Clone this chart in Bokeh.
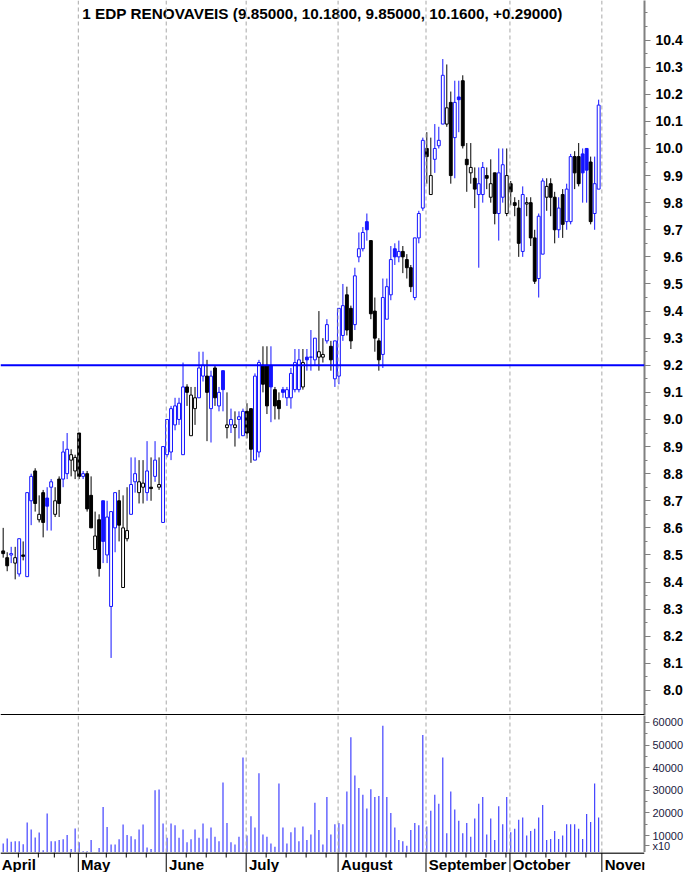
from bokeh.plotting import figure
from bokeh.layouts import column
from bokeh.models import (Range1d, LinearAxis, FixedTicker, CustomJSTickFormatter, Span)
from bokeh.core.properties import value
from bokeh.embed import file_html
from bokeh.resources import INLINE

# ---------------- data (trading days, 2 Apr .. 31 Oct) ----------------
open_ = [8.515, 8.49, 8.50, 8.47, 8.43, 8.50, 8.42, 8.70, 8.81, 8.63,
         8.73, 8.71, 8.75, 8.65, 8.78, 8.78, 8.80, 8.85, 8.81,
         8.95, 8.79, 8.80, 8.72, 8.52, 8.63, 8.70, 8.50, 8.31, 8.60,
         8.70, 8.38, 8.56, 8.65, 8.77, 8.73, 8.75, 8.73, 8.75, 8.79, 8.75, 8.62,
         8.87, 8.88, 8.98, 9.00, 8.87, 9.12, 8.94, 9.04, 9.08, 9.16,
         9.16, 9.04, 9.19, 9.05, 9.18, 8.97, 8.98, 8.97, 9.00, 8.94,
         9.03, 9.04, 8.85, 8.88, 9.20, 9.20, 9.20, 9.11, 9.07, 9.11,
         9.08, 9.08, 9.11, 9.11, 9.12, 9.23, 9.23, 9.22, 9.23, 9.23,
         9.29, 9.27, 9.15,
         9.16, 9.31, 9.46, 9.41, 9.35, 9.60, 9.63, 9.73, 9.66, 9.40,
         9.29, 9.24, 9.37, 9.46, 9.63, 9.60, 9.62, 9.59, 9.56, 9.45,
         9.67, 9.78,
         10.00, 9.83, 9.96, 10.01, 10.09, 10.09, 10.17, 10.04, 10.19, 10.25,
         9.96, 9.91, 9.89, 9.83, 9.83, 9.90, 9.82, 9.91, 9.76, 9.82, 9.76,
         9.87, 9.80, 9.78, 9.62, 9.795, 9.80, 9.67, 9.52, 9.61, 9.82,
         9.87, 9.82, 9.70, 9.83, 9.73, 9.73, 9.97, 9.97, 9.98, 10.00,
         9.95, 9.76, 9.85]
high = [8.60, 8.51, 8.53, 8.53, 8.56, 8.55, 8.73, 8.80, 8.82, 8.72,
        8.74, 8.75, 8.78, 8.75, 8.79, 8.92, 8.95, 8.89, 8.87,
        8.95, 8.81, 8.81, 8.79, 8.66, 8.65, 8.70, 8.70, 8.66, 8.73,
        8.74, 8.72, 8.75, 8.86, 8.86, 8.85, 8.85, 8.92, 8.86, 8.92, 8.86, 8.90,
        9.00, 9.05, 9.08, 9.08, 9.21, 9.13, 9.12, 9.12, 9.25, 9.25,
        9.22, 9.18, 9.20, 9.12, 9.18, 9.10, 9.04, 9.03, 9.03, 9.04,
        9.06, 9.04, 9.17, 9.22, 9.27, 9.27, 9.27, 9.12, 9.10, 9.12,
        9.12, 9.19, 9.26, 9.26, 9.26, 9.26, 9.33, 9.30, 9.40, 9.30,
        9.37, 9.29, 9.29,
        9.41, 9.50, 9.49, 9.42, 9.56, 9.69, 9.71, 9.76, 9.66, 9.45,
        9.30, 9.52, 9.52, 9.64, 9.65, 9.66, 9.64, 9.61, 9.57, 9.67,
        9.77, 10.04,
        10.06, 10.04, 10.09, 10.08, 10.33, 10.31, 10.21, 10.25, 10.25, 10.27,
        10.02, 10.02, 9.93, 9.93, 9.95, 9.93, 9.96, 9.91, 10.00, 10.00, 10.00,
        9.88, 9.82, 9.81, 9.86, 9.82, 9.82, 9.70, 9.76, 9.89, 9.89,
        9.89, 9.84, 9.82, 9.85, 9.87, 9.98, 9.99, 10.02, 10.00, 10.00,
        9.97, 9.97, 10.18]
low = [8.49, 8.44, 8.47, 8.41, 8.42, 8.48, 8.42, 8.61, 8.66, 8.62,
       8.565, 8.59, 8.59, 8.64, 8.64, 8.75, 8.78, 8.79, 8.78,
       8.78, 8.78, 8.66, 8.60, 8.52, 8.42, 8.47, 8.47, 8.12, 8.51,
       8.55, 8.38, 8.55, 8.65, 8.73, 8.69, 8.69, 8.70, 8.70, 8.77, 8.74, 8.62,
       8.86, 8.85, 8.96, 8.98, 8.87, 9.05, 8.94, 8.98, 9.08, 9.14,
       8.92, 8.915, 9.05, 9.03, 9.03, 8.93, 8.95, 8.90, 8.93, 8.94,
       8.93, 8.84, 8.85, 8.86, 9.10, 9.02, 8.99, 9.00, 9.00, 9.08,
       9.05, 9.04, 9.10, 9.10, 9.11, 9.18, 9.18, 9.20, 9.18, 9.21,
       9.28, 9.18, 9.12,
       9.13, 9.29, 9.31, 9.26, 9.33, 9.58, 9.62, 9.66, 9.37, 9.25,
       9.18, 9.19, 9.37, 9.44, 9.57, 9.58, 9.54, 9.52, 9.47, 9.44,
       9.65, 9.77,
       9.87, 9.83, 9.91, 10.00, 10.09, 10.08, 9.87, 9.89, 10.06, 10.00,
       9.84, 9.87, 9.78, 9.56, 9.80, 9.85, 9.80, 9.72, 9.66, 9.80, 9.75,
       9.79, 9.75, 9.60, 9.60, 9.75, 9.64, 9.50, 9.45, 9.61, 9.77,
       9.75, 9.65, 9.67, 9.67, 9.70, 9.72, 9.85, 9.86, 9.80, 9.80,
       9.72, 9.70, 9.85]
close = [8.505, 8.46, 8.505, 8.49, 8.56, 8.495, 8.73, 8.79, 8.69, 8.65,
         8.62, 8.68, 8.77, 8.70, 8.69, 8.88, 8.89, 8.87, 8.86,
         8.79, 8.80, 8.67, 8.60, 8.57, 8.45, 8.55, 8.64, 8.66, 8.73,
         8.61, 8.60, 8.59, 8.76, 8.80, 8.77, 8.765, 8.81, 8.745, 8.85, 8.76, 8.90,
         9.00, 9.04, 9.05, 9.06, 9.12, 9.10, 9.09, 9.08, 9.19, 9.20,
         9.10, 9.16, 9.08, 9.10, 9.11, 8.98, 9.00, 8.98, 9.01, 9.03,
         8.95, 8.89, 9.16, 9.21, 9.13, 9.05, 9.12, 9.05, 9.04, 9.10,
         9.11, 9.17, 9.21, 9.22, 9.21, 9.22, 9.23, 9.30, 9.25, 9.24,
         9.35, 9.22, 9.29,
         9.41, 9.42, 9.33, 9.29, 9.53, 9.63, 9.69, 9.70, 9.39, 9.30,
         9.22, 9.45, 9.49, 9.59, 9.60, 9.62, 9.60, 9.56, 9.49, 9.67,
         9.76, 10.03,
         9.97, 9.90, 10.00, 10.03, 10.27, 10.15, 9.90, 10.17, 10.18, 10.01,
         9.94, 9.93, 9.85, 9.87, 9.93, 9.89, 9.87, 9.76, 9.91, 9.94, 9.90,
         9.84, 9.79, 9.65, 9.83, 9.80, 9.67, 9.51, 9.75, 9.88, 9.86,
         9.82, 9.70, 9.78, 9.72, 9.85, 9.97, 9.91, 9.87, 9.91, 9.92,
         9.73, 9.87, 10.16]
volume = [6500, 8700, 7200, 7500, 7500, 6200, 15800, 12700, 9100, 11300,
          3500, 19700, 7500, 7500, 8000, 8400, 10200, 4000, 13100,
          7000, 3000, 3000, 8000, 2600, 4500, 22600, 13800, 6000, 6000,
          8400, 14900, 10200, 9700, 8400, 12700, 14900, 4700, 4000, 30000, 30300, 15300,
          9000, 15300, 14500, 9000, 12700, 7000, 8400, 12700, 9000, 15300,
          8700, 13500, 9500, 7500, 33500, 15500, 7000, 6000, 9500, 44500,
          10000, 18500, 13500, 37500, 10500, 9500, 6500, 5000, 33000, 13500,
          6500, 11500, 13500, 7500, 14000, 8000, 10500, 24500, 12500, 6000,
          27000, 10500, 15000,
          15500, 15000, 29500, 53500, 36500, 31000, 28000, 22000, 30500, 27000,
          27500, 58500, 27000, 20000, 13500, 8000, 7500, 5500, 12500, 15500,
          14500, 54500,
          14000, 21000, 28000, 24000, 44500, 11000, 29500, 21500, 16500, 11000,
          15500, 9500, 17500, 24000, 27000, 10500, 17500, 8000, 23000, 15000, 27000,
          11500, 13000, 17000, 18000, 10000, 12000, 13000, 18000, 23500, 8000,
          8500, 12000, 8500, 10000, 15000, 15000, 15000, 13000, 8500, 19500,
          16000, 33000, 18000]

month_names = ["April", "May", "June", "July", "August", "September", "October", "November"]
month_start = [0, 19, 41, 61, 84, 106, 127, 150]       # index of first trading day
week_start = [4, 9, 13, 17, 21, 26, 31, 36, 46, 51, 56, 66, 71, 76, 81, 86, 91, 96,
              101, 111, 116, 121, 126, 131, 136, 141, 146]
price_ticks = [round(8.0 + 0.1 * k, 1) for k in range(25)]
volume_ticks = [10000, 20000, 30000, 40000, 50000, 60000]
volume_scale_tag = "x10"
reference_level = 9.2
title_text = "1 EDP RENOVAVEIS (9.85000, 10.1800, 9.85000, 10.1600, +0.29000)"

# ---------------- derived styling ----------------
N = len(close)
idx = list(range(N))
BLUE = "#1414ff"
prev = [open_[0]] + close[:-1]
col = [BLUE if c > pc else "black" for c, pc in zip(close, prev)]
fill = ["white" if c >= o else cc for o, c, cc in zip(open_, close, col)]
top = [max(o, c) for o, c in zip(open_, close)]
bot = [min(o, c) for o, c in zip(open_, close)]

FONT = "Liberation Sans"
W = 686
RB = 39
H_P, H_V, H_M = 715, 137, 20
xr = Range1d(-0.672, 160.47)
P_TOP = 10.546
P_BOT = P_TOP - H_P / 271.0
V_BOT = 2500
V_TOP = V_BOT + H_V / 2.262 * 1000
TAG_POS = V_BOT + 7 / 2.262 * 1000     # where the "x10" tag sits on the volume axis

def base_fig(h, yr):
    f = figure(width=W, height=h, x_range=xr, y_range=yr,
               output_backend="svg", toolbar_location=None,
               x_axis_location=None, y_axis_location=None,
               min_border_left=0, min_border_right=RB, min_border_top=0,
               min_border_bottom=0)
    f.outline_line_color = None
    f.grid.visible = False
    f.background_fill_color = "white"
    return f

grid_x = [m - 0.2 for m in month_start[1:]]
week_x = [w - 0.2 for w in week_start]

# ---------------- price panel ----------------
p = base_fig(H_P, Range1d(P_BOT, P_TOP))
for gx in grid_x:
    p.add_layout(Span(location=gx, dimension="height", line_color="#a8a8a8",
                      line_dash="4 3", line_width=1))
p.add_layout(Span(location=reference_level, dimension="width", line_color="#0000ff",
                  line_width=2))

p.segment(x0=idx, y0=low, x1=idx, y1=high, line_color=col, line_width=1)
p.vbar(x=idx, top=top, bottom=bot, width=0.72, fill_color=fill, line_color=col,
       line_width=1)

p.text(x=[(xr.start + xr.end) / 2], y=[10.498], text=[title_text],
       text_font=value(FONT), text_font_style="bold", text_font_size="15.3px",
       text_align="center", text_baseline="middle", text_color="black")

p.add_layout(Span(location=P_BOT + 0.8 / 271, dimension="width", line_color="black",
                  line_width=1.5))

minor_p = [round(7.95 + 0.05 * k, 2) for k in range(52)]
pax = LinearAxis(ticker=FixedTicker(ticks=price_ticks, minor_ticks=minor_p),
                 formatter=CustomJSTickFormatter(code="""
                     const s = tick.toFixed(1);
                     return s.length < 4 ? '\\u00a0\\u00a0' + s : s;"""))
pax.axis_line_color = "#808080"
pax.axis_line_width = 2
pax.major_tick_line_color = "#808080"
pax.minor_tick_line_color = "#808080"
pax.major_tick_out = 6
pax.major_tick_in = 0
pax.minor_tick_out = 3
pax.minor_tick_in = 0
pax.major_label_standoff = 5
pax.major_label_text_font = FONT
pax.major_label_text_font_style = "bold"
pax.major_label_text_font_size = "14px"
pax.major_label_text_color = "black"
p.add_layout(pax, "right")

# ---------------- volume panel ----------------
v = base_fig(H_V, Range1d(V_BOT, V_TOP))
for gx in grid_x:
    v.add_layout(Span(location=gx, dimension="height", line_color="#a8a8a8",
                      line_dash="4 3", line_width=1))
v.segment(x0=idx, y0=[0] * N, x1=idx, y1=volume, line_color="#3030ff", line_width=1.1)

vax = LinearAxis(ticker=FixedTicker(ticks=[TAG_POS] + volume_ticks,
                                    minor_ticks=[15000, 25000, 35000, 45000, 55000]),
                 formatter=CustomJSTickFormatter(
                     args=dict(tag=volume_scale_tag, lim=9000),
                     code="return tick < lim ? tag : tick.toFixed(0);"))
vax.axis_line_color = "#808080"
vax.axis_line_width = 2
vax.major_tick_line_color = "#808080"
vax.minor_tick_line_color = "#808080"
vax.major_tick_out = 5
vax.major_tick_in = 0
vax.minor_tick_out = 3
vax.minor_tick_in = 0
vax.major_label_standoff = 3
vax.major_label_text_font = FONT
vax.major_label_text_font_size = "11px"
vax.major_label_text_color = "#1a1a40"
v.add_layout(vax, "right")

# ---------------- month label row ----------------
m = base_fig(H_M, Range1d(0, H_M))
label_x = [xr.start + 0.3] + [s + 0.5 for s in month_start[1:]]
m.text(x=label_x, y=[8] * len(month_names), text=month_names,
       text_font=value(FONT), text_font_style="bold", text_font_size="15px",
       text_baseline="middle", text_align="left", text_color="black")
m.segment(x0=grid_x, y0=[0] * len(grid_x), x1=grid_x, y1=[H_M] * len(grid_x),
          line_color="black", line_width=1)
m.segment(x0=week_x, y0=[H_M - 5] * len(week_x), x1=week_x, y1=[H_M] * len(week_x),
          line_color="black", line_width=1)
m.add_layout(Span(location=H_M - 0.6, dimension="width", line_color="black",
                  line_width=1.5))

layout = column(p, v, m, spacing=0)
open("out.html", "w").write(file_html(layout, INLINE))
